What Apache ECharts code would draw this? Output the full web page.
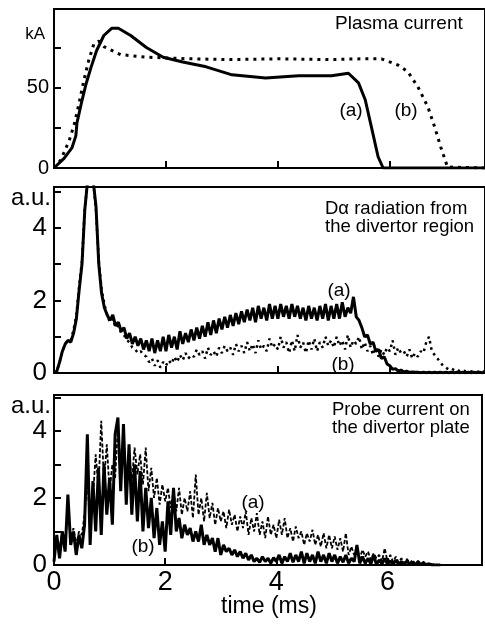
<!DOCTYPE html>
<html>
<head>
<meta charset="utf-8">
<script src="https://cdn.jsdelivr.net/npm/echarts@6/dist/echarts.min.js"></script>
<style>
html, body { margin: 0; padding: 0; background: #fff; }
#chart { width: 485px; height: 624px; }
</style>
</head>
<body>
<div id="chart"></div>
<script>
// tick labels
const timeTicks = [0, 2, 4, 6];
const kaTicks = [0, 50];
const auTicks = [0, 2, 4];

// plasma current (kA)
const plasmaTimeA = [0, 0.18, 0.32, 0.39, 0.41, 0.5, 0.57, 0.66, 0.76, 0.89, 1.03, 1.15, 1.37, 1.65, 1.95, 2.3, 2.72, 3.18, 3.78, 4.37, 4.96, 5.26, 5.44, 5.56, 5.67, 5.79, 5.88, 7.7];
const plasmaA = [0, 6, 12.5, 20, 28, 42, 52, 62.5, 73, 82.5, 87, 87, 82.5, 75, 69, 66, 63, 58, 56, 57.5, 57.5, 59, 53, 42.5, 25.6, 7, 0, 0];
const plasmaTimeB = [0, 0.12, 0.27, 0.36, 0.44, 0.53, 0.62, 0.71, 0.8, 0.89, 1.19, 1.65, 2.4, 3.18, 4.0, 4.96, 5.5, 5.85, 6.15, 6.32, 6.5, 6.68, 6.8, 6.91, 7.03, 7.7];
const plasmaB = [0, 5, 17, 27, 39, 54, 67, 77, 79, 75.6, 70.6, 69, 68, 67.5, 68, 67.5, 68, 68, 64, 60, 50.6, 38, 25.6, 13, 0.6, 0];

// D-alpha and probe signals, one value every 0.05 ms from t = 0
const sampleStep = 0.05;
const dalphaA = [
    0, 0.05, 0.3, 0.6, 0.8, 0.9, 0.85, 1.1, 1.5, 2.3,
    3.0, 4.5, 5.3, 5.3, 5.3, 4.6, 3.0, 2.2, 1.8, 1.6,
    1.45, 1.6, 1.3, 1.4, 1.15, 1.25, 0.95, 1.1, 0.8, 1.0,
    0.75, 0.95, 0.65, 0.9, 0.6, 0.95, 0.55, 0.9, 0.6, 1.0,
    0.6, 1.05, 0.7, 1.0, 0.65, 1.15, 0.8, 1.1, 0.85, 1.2,
    0.9, 1.25, 0.95, 1.3, 1.0, 1.4, 1.05, 1.45, 1.1, 1.5,
    1.2, 1.55, 1.25, 1.6, 1.3, 1.65, 1.35, 1.7, 1.4, 1.75,
    1.45, 1.8, 1.4, 1.85, 1.5, 1.8, 1.45, 1.9, 1.5, 1.85,
    1.5, 1.9, 1.55, 1.85, 1.5, 1.9, 1.55, 1.85, 1.5, 1.8,
    1.45, 1.85, 1.5, 1.8, 1.45, 1.85, 1.5, 1.9, 1.45, 1.85,
    1.5, 1.9, 1.5, 1.95, 1.55, 1.8, 1.65, 2.1, 1.55, 1.45,
    1.25, 1.0, 1.05, 0.8, 0.85, 0.6, 0.65, 0.4, 0.45, 0.25,
    0.2, 0.1, 0.12, 0.05, 0.08, 0.03, 0.05, 0.02, 0.03, 0.02,
    0.02, 0.01, 0.02, 0.01, 0.02, 0.01, 0.02, 0.01, 0.02, 0.01,
    0.02, 0.01, 0.02, 0.01, 0.02, 0.01, 0.02, 0.01, 0.02, 0.01,
    0.02, 0.01, 0.02, 0.01, 0.02
];
const dalphaB = [
    0, 0.05, 0.3, 0.6, 0.8, 0.9, 0.9, 1.2, 1.6, 2.4,
    3.1, 4.5, 5.3, 5.3, 5.3, 4.5, 3.1, 2.3, 1.9, 1.6,
    1.4, 1.5, 1.25, 1.3, 1.1, 1.05, 0.9, 0.85, 0.7, 0.65,
    0.55, 0.6, 0.5, 0.45, 0.3, 0.4, 0.2, 0.35, 0.15, 0.3,
    0.2, 0.35, 0.25, 0.45, 0.3, 0.5, 0.35, 0.55, 0.4, 0.5,
    0.45, 0.65, 0.5, 0.6, 0.4, 0.7, 0.5, 0.6, 0.45, 0.7,
    0.55, 0.75, 0.6, 0.7, 0.5, 0.8, 0.6, 0.75, 0.55, 0.85,
    0.6, 0.8, 0.55, 0.9, 0.65, 0.75, 0.6, 0.95, 0.7, 0.8,
    0.65, 1.0, 0.7, 0.85, 0.55, 0.9, 0.6, 1.05, 0.7, 0.85,
    0.55, 0.9, 0.65, 0.95, 0.6, 0.85, 0.7, 1.0, 0.75, 0.9,
    0.7, 1.0, 0.75, 0.9, 0.65, 1.05, 0.7, 0.9, 0.8, 1.0,
    0.65, 0.85, 0.6, 0.75, 0.5, 0.7, 0.45, 0.65, 0.5, 0.7,
    0.6, 0.9, 0.5, 0.7, 0.55, 0.6, 0.45, 0.65, 0.4, 0.55,
    0.45, 0.6, 0.55, 0.85, 1.0, 0.6, 0.5, 0.4, 0.3, 0.2,
    0.15, 0.1, 0.12, 0.08, 0.1, 0.05, 0.08, 0.05, 0.05, 0.04,
    0.05, 0.03, 0.04, 0.03, 0.05
];
const probeA = [
    0.3, 0.8, 0.5, 1.0, 0.7, 1.6, 0.8, 1.1, 0.6, 1.0,
    0.9, 1.5, 2.6, 1.2, 2.0, 3.3, 2.3, 4.3, 2.5, 3.6,
    2.2, 3.0, 2.6, 4.1, 2.9, 3.8, 2.6, 3.4, 2.5, 3.5,
    2.7, 3.3, 2.4, 3.5, 2.2, 2.9, 2.0, 2.6, 1.8, 2.4,
    1.9, 2.3, 1.7, 2.2, 1.6, 2.3, 1.5, 2.0, 1.6, 2.2,
    1.4, 2.7, 1.5, 2.0, 1.3, 2.15, 1.4, 1.85, 1.2, 1.7,
    1.3, 1.6, 1.1, 1.65, 1.2, 1.5, 1.0, 1.45, 1.1, 1.6,
    0.9, 1.4, 1.0, 1.55, 0.9, 1.3, 0.8, 1.45, 0.9, 1.2,
    0.8, 1.35, 0.9, 1.4, 0.8, 1.1, 0.7, 1.15, 0.8, 1.0,
    0.6, 0.95, 0.7, 1.05, 0.6, 0.9, 0.55, 0.95, 0.5, 0.9,
    0.5, 0.85, 0.45, 0.8, 0.4, 0.95, 0.3, 0.55, 0.3, 0.5,
    0.2, 0.45, 0.25, 0.4, 0.15, 0.35, 0.2, 0.3, 0.1, 0.5,
    0.1, 0.3, 0.1, 0.25, 0.08, 0.2, 0.05, 0.18, 0.05, 0.15,
    0.03, 0.12, 0.03, 0.1, 0.02, 0.06, 0.01, 0.03, 0, 0
];
const probeB = [
    0.1, 0.9, 0.2, 1.0, 0.4, 2.1, 0.6, 1.0, 0.3, 0.9,
    0.5, 1.2, 3.9, 0.6, 2.5, 1.0, 2.9, 0.9, 3.0, 1.5,
    2.6, 1.2, 3.9, 4.4, 2.2, 4.2, 1.8, 3.6, 1.5, 3.0,
    1.3, 2.8, 1.0, 2.3, 1.1, 2.0, 0.8, 1.7, 0.6, 1.3,
    0.4, 1.9, 0.9, 2.3, 1.0, 1.4, 0.8, 1.2, 0.9, 1.1,
    0.7, 1.0, 0.7, 1.2, 0.6, 0.9, 0.6, 0.8, 0.4, 0.8,
    0.3, 0.6, 0.4, 0.5, 0.3, 0.45, 0.25, 0.4, 0.2, 0.35,
    0.15, 0.3, 0.1, 0.2, 0.08, 0.25, 0.1, 0.2, 0.05, 0.22,
    0.1, 0.3, 0.05, 0.25, 0.1, 0.35, 0.08, 0.3, 0.1, 0.4,
    0.05, 0.35, 0.1, 0.3, 0.05, 0.4, 0.1, 0.3, 0.05, 0.35,
    0.1, 0.3, 0.05, 0.25, 0.08, 0.3, 0.05, 0.2, 0.1, 0.6,
    0.05, 0.25, 0.05, 0.2, 0.03, 0.3, 0.02, 0.15, 0.03, 0.2,
    0.02, 0.12, 0.02, 0.15, 0.02, 0.1, 0.02, 0.12, 0.02, 0.08,
    0.01, 0.1, 0.01, 0.06, 0.01, 0.03, 0, 0, 0, 0
];

const FONT = "'Liberation Sans', Arial, sans-serif";

function pairs(times, values) {
    return values.map((v, i) => [times[i], v]);
}
function sampled(values) {
    return values.map((v, i) => [+(i * sampleStep).toFixed(2), v]);
}

const grids = [
    { left: 54, top: 9, width: 433, height: 159 },
    { left: 54, top: 187, width: 433, height: 186 },
    { left: 54, top: 395, width: 433, height: 170 }
].map(g => ({ ...g, show: true, borderColor: '#000', borderWidth: 2, backgroundColor: 'transparent' }));

const tickStyle = { show: true, inside: true, length: 7, lineStyle: { color: '#000', width: 2 } };

const xAxes = [0, 1, 2].map(i => ({
    type: 'value', gridIndex: i, min: 0, max: 7.7, interval: 2,
    axisLine: { show: true, lineStyle: { color: '#000', width: 2 } },
    axisTick: tickStyle,
    splitLine: { show: false },
    axisLabel: {
        show: i === 2, margin: 4, color: '#000', fontFamily: FONT, fontSize: 27,
        formatter: v => timeTicks.includes(v) ? String(v) : ''
    }
}));

const yMax = [99, 5.13, 5.07];
const yStep = [25, 1, 1];
const yLabels = [kaTicks, auTicks, auTicks];
const yAxes = [0, 1, 2].map(i => ({
    type: 'value', gridIndex: i, min: 0, max: yMax[i], interval: yStep[i],
    axisLine: { show: true, lineStyle: { color: '#000', width: 2 } },
    axisTick: tickStyle,
    splitLine: { show: false },
    axisLabel: {
        margin: i === 0 ? 5 : 7, color: '#000', fontFamily: FONT, fontSize: i === 0 ? 20 : 26,
        formatter: v => yLabels[i].includes(v) ? String(v) : ''
    }
}));

function line(idx, data, width, type) {
    return {
        type: 'line', xAxisIndex: idx, yAxisIndex: idx, data: data,
        showSymbol: false, symbol: 'none', silent: true,
        lineStyle: { color: '#000', width: width, type: type }
    };
}

function label(text, x, y, size, align) {
    return {
        type: 'text', x: x, y: y,
        style: { text: text, font: size + 'px ' + FONT, fill: '#000', align: align || 'center', verticalAlign: 'middle', lineHeight: 18 }
    };
}

const chart = echarts.init(document.getElementById('chart'));
chart.setOption({
    animation: false,
    backgroundColor: '#fff',
    grid: grids,
    xAxis: xAxes,
    yAxis: yAxes,
    series: [
        line(0, pairs(plasmaTimeB, plasmaB), 3, [3, 5]),
        line(0, pairs(plasmaTimeA, plasmaA), 3, 'solid'),
        line(1, sampled(dalphaB), 2.5, [2.5, 4]),
        line(1, sampled(dalphaA), 3, 'solid'),
        line(2, sampled(probeA), 1.8, [4, 2]),
        line(2, sampled(probeB), 3, 'solid')
    ],
    graphic: [
        label('kA', 45, 34, 17, 'right'),
        label('a.u.', 51, 198, 24, 'right'),
        label('a.u.', 51, 406, 24, 'right'),
        label('Plasma current', 335, 24, 19, 'left'),
        label('D\u03b1 radiation from\nthe divertor region', 325, 218, 18.5, 'left'),
        label('Probe current on\nthe divertor plate', 332, 419, 18.5, 'left'),
        label('(a)', 351, 111, 19),
        label('(b)', 406, 111, 19),
        label('(a)', 339, 291, 19),
        label('(b)', 343, 365, 19),
        label('(a)', 253, 503, 19),
        label('(b)', 143, 547, 19),
        label('time (ms)', 269, 607, 23)
    ]
});
</script>
</body>
</html>
